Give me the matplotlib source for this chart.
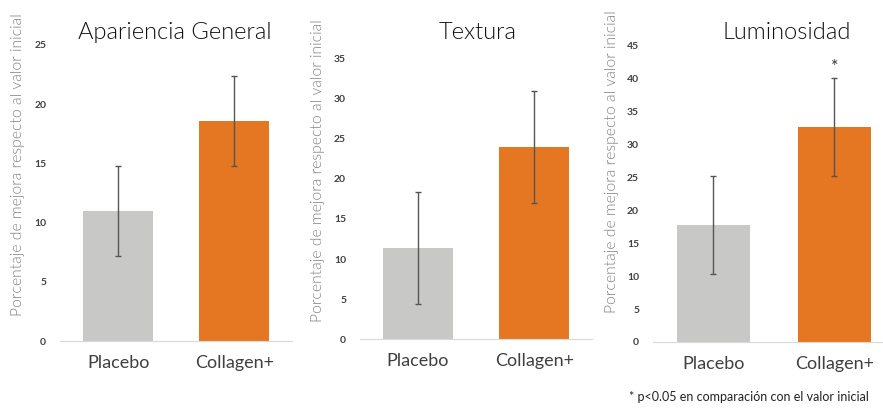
import matplotlib.pyplot as plt

# data
categories = ["Placebo", "Collagen+"]
titles = ["Apariencia General", "Textura", "Luminosidad"]
values = [[11.0, 18.6], [11.4, 24.0], [17.8, 32.7]]
errors = [[3.8, 3.8], [7.0, 7.0], [7.4, 7.4]]
ymax = [25, 35, 45]
ylabel = "Porcentaje de mejora respecto al valor inicial"
footnote = "* p<0.05 en comparación con el valor inicial"

colors = ["#C8C8C6", "#E57722"]
fig = plt.figure(figsize=(8.83, 4.09), dpi=100)

# axes boxes in figure fraction
boxes = [
    [0.068, 0.166, 0.263, 0.724],
    [0.4077, 0.171, 0.263, 0.685],
    [0.7395, 0.164, 0.274, 0.7237],
]
title_x = [0.198, 0.541, 0.891]
label_y = [0.595, 0.60, 0.61]
label_x = [-0.15, -0.15, -0.14]

for i in range(3):
    ax = fig.add_axes(boxes[i])
    ax.bar(range(2), values[i], width=0.6, color=colors,
           yerr=errors[i], error_kw=dict(ecolor="#555555", elinewidth=1,
                                         capsize=2.5, capthick=1))
    ax.set_xlim(-0.5, 1.5)
    ax.set_ylim(0, ymax[i])
    ax.set_yticks(range(0, ymax[i] + 1, 5))
    ax.set_xticks(range(2))
    ax.set_xticklabels(categories, fontsize=13, color="#404040",
                       family="Lato", fontweight="normal")
    for lab in ax.get_yticklabels():
        lab.set_fontsize(7.5)
        lab.set_fontweight("bold")
        lab.set_color("#404040")
        lab.set_family("Lato")
    for s in ["top", "right", "left"]:
        ax.spines[s].set_visible(False)
    ax.spines["bottom"].set_color("#D9D9D9")
    ax.tick_params(axis="both", length=0)
    ax.tick_params(axis="y", pad=10)
    ax.tick_params(axis="x", pad=10)
    ax.set_ylabel(ylabel, fontsize=11.3, color="#808080", family="Lato",
                  fontweight=300)
    ax.yaxis.set_label_coords(label_x[i], label_y[i])
    fig.text(title_x[i], 0.92, titles[i], ha="center", va="center",
             fontsize=17, family="Lato", fontweight=300, color="#111111")

# significance mark
ax.text(1, 40.6, "*", ha="center", va="bottom", fontsize=13, color="#333333",
        family="Lato")
fig.text(0.712, 0.03, footnote, fontsize=9, color="#222222", family="Lato",
         va="center")

fig.savefig("out.png", dpi=100)
